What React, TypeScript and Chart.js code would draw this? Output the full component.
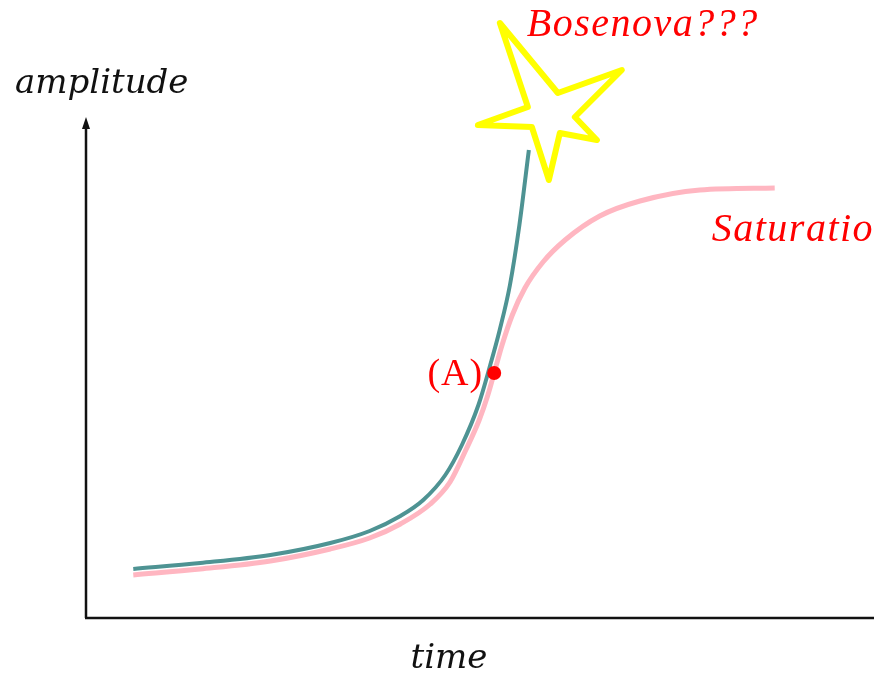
import React, { useEffect, useRef } from "react";
import { Chart, registerables } from "chart.js";

Chart.register(...registerables);

// Growth curve that keeps accelerating (collapse scenario)
const growthTime = [6, 14.5, 23.4, 31, 36, 39.9, 42.8, 45.6, 47.7, 49.8, 51.3, 52.5, 53.8, 55, 56.2];
const growthAmp = [9.8, 11, 12.6, 15, 17.4, 20.4, 23.6, 28.6, 34.6, 42.6, 50.6, 57.6, 66.6, 78.6, 93.6];

// Growth curve that levels off (saturation scenario)
const satTime = [6, 14.5, 23.4, 31, 36, 39.9, 43.7, 46.2, 48.2, 49.9, 51, 51.8, 52.8, 54.1, 55.7, 58, 60.8, 65.2, 70.3, 77.9, 87.4];
const satAmp = [8.6, 9.8, 11.4, 13.8, 16, 18.8, 22.8, 27.2, 33.6, 39.6, 44.6, 49, 54.6, 60.6, 66, 71.2, 75.6, 80.4, 83.4, 85.6, 86];

// Marked point (A) where the two behaviours part
const pointATime = [51.8];
const pointAAmp = [49];

const labels = {
  xTitle: "time",
  yTitle: "amplitude",
  point: "(A)",
  burst: "Bosenova???",
  plateau: "Saturation",
};

// Outline of the burst star, offsets in px from the tip of the growth curve
const starShape: [number, number][] = [
  [-29, -127], [29, -57], [93, -80], [46, -33], [68, -10],
  [31, -17], [20, 30], [3, -23], [-51, -25], [-1, -43],
];

const toXY = (xs: number[], ys: number[]) => xs.map((x, i) => ({ x, y: ys[i] }));

const sketchPlugin = {
  id: "sketchDecor",
  afterDraw(chart: any) {
    const { ctx, chartArea, scales } = chart;
    const { left, top, bottom } = chartArea;
    const xs = scales.x;
    const ys = scales.y;
    ctx.save();

    // axes
    ctx.strokeStyle = "#111";
    ctx.lineWidth = 2.5;
    ctx.beginPath();
    ctx.moveTo(left, bottom);
    ctx.lineTo(left, top + 9);
    ctx.moveTo(left - 1, bottom);
    ctx.lineTo(chart.width, bottom);
    ctx.stroke();
    ctx.fillStyle = "#111";
    ctx.beginPath();
    ctx.moveTo(left, top - 1);
    ctx.lineTo(left - 4, top + 11);
    ctx.lineTo(left + 4, top + 11);
    ctx.closePath();
    ctx.fill();

    // axis titles
    ctx.fillStyle = "#111";
    ctx.font = "italic 34px 'DejaVu Serif'";
    ctx.textAlign = "left";
    ctx.textBaseline = "alphabetic";
    ctx.fillText(labels.yTitle, left - 71, top - 25);
    ctx.textAlign = "center";
    ctx.fillText(labels.xTitle, 449, bottom + 50);

    // star at the end of the runaway curve
    const gEnd = growthTime.length - 1;
    const gx = xs.getPixelForValue(growthTime[gEnd]);
    const gy = ys.getPixelForValue(growthAmp[gEnd]);
    ctx.strokeStyle = "#ffff00";
    ctx.lineWidth = 6;
    ctx.lineJoin = "round";
    ctx.beginPath();
    starShape.forEach(([dx, dy], i) => {
      if (i === 0) ctx.moveTo(gx + dx, gy + dy);
      else ctx.lineTo(gx + dx, gy + dy);
    });
    ctx.closePath();
    ctx.stroke();

    // red annotations
    ctx.fillStyle = "#ff0000";
    ctx.font = "italic 40px 'Liberation Serif'";
    ctx.letterSpacing = "1.5px";
    ctx.textAlign = "left";
    ctx.fillText(labels.burst, gx - 2, gy - 114);

    const sEnd = satTime.length - 1;
    const sx = xs.getPixelForValue(satTime[sEnd]);
    const sy = ys.getPixelForValue(satAmp[sEnd]);
    ctx.fillText(labels.plateau, sx - 63, sy + 53);

    const ax = xs.getPixelForValue(pointATime[0]);
    const ay = ys.getPixelForValue(pointAAmp[0]);
    ctx.font = "38px 'Liberation Serif'";
    ctx.letterSpacing = "1px";
    ctx.textAlign = "right";
    ctx.fillText(labels.point, ax - 11, ay + 12);

    ctx.restore();
  },
};

export default function App() {
  const ref = useRef<HTMLCanvasElement>(null);

  useEffect(() => {
    if (!ref.current) return;
    const chart = new Chart(ref.current, {
      type: "line",
      data: {
        datasets: [
          {
            data: toXY(pointATime, pointAAmp),
            showLine: false,
            pointRadius: 7,
            pointBackgroundColor: "#ff0000",
            pointBorderWidth: 0,
            order: 0,
          },
          {
            data: toXY(growthTime, growthAmp),
            borderColor: "#4e9393",
            borderWidth: 4,
            pointRadius: 0,
            cubicInterpolationMode: "monotone",
            fill: false,
            order: 1,
          },
          {
            data: toXY(satTime, satAmp),
            borderColor: "#ffb6c1",
            borderWidth: 5,
            pointRadius: 0,
            cubicInterpolationMode: "monotone",
            fill: false,
            order: 2,
          },
        ],
      },
      options: {
        responsive: false,
        animation: false,
        layout: { autoPadding: false, padding: { left: 86, right: 0, top: 118, bottom: 59 } },
        plugins: { legend: { display: false }, tooltip: { enabled: false } },
        scales: {
          x: { type: "linear", min: 0, max: 100, display: false },
          y: { type: "linear", min: 0, max: 100, display: false },
        },
      },
      plugins: [sketchPlugin],
    });
    return () => chart.destroy();
  }, []);

  return (
    <div style={{ position: "absolute", left: 0, top: 0, width: 874, height: 677, background: "#fff" }}>
      <canvas ref={ref} width={874} height={677} />
    </div>
  );
}
